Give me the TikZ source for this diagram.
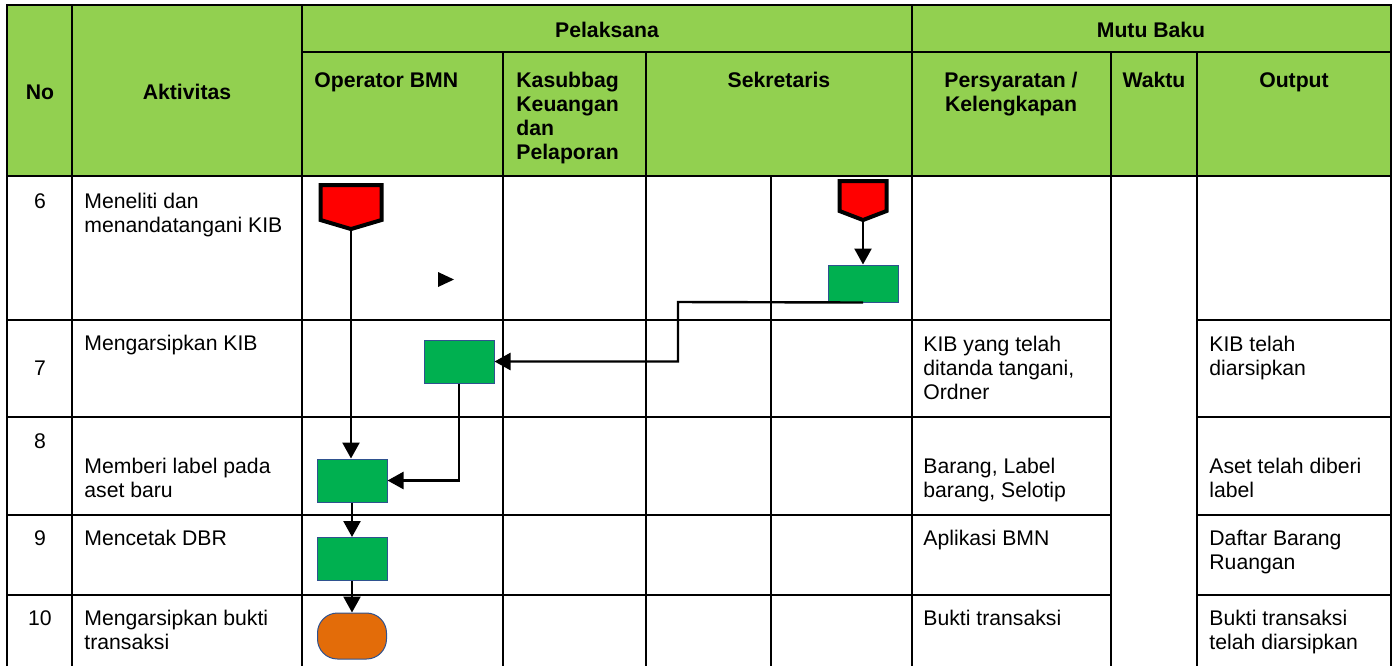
\documentclass[tikz,border=0pt]{standalone}
\usepackage{fontspec}
\setmainfont{Liberation Sans}
\usetikzlibrary{arrows.meta,shapes.symbols}
\definecolor{hdrgreen}{HTML}{92D050}
\definecolor{boxgreen}{HTML}{00B050}
\definecolor{boxedge}{HTML}{2F528F}
\definecolor{termorange}{HTML}{E36C09}
\begin{document}
\begin{tikzpicture}[
    x=0.5pt, y=-0.5pt,
    grid/.style={line width=1pt},
    head/.style={font=\fontsize{10.6}{12}\selectfont\bfseries, inner sep=0pt, align=center},
    cell/.style={font=\fontsize{10.6}{12}\selectfont, inner sep=0pt, align=left, anchor=base west},
    num/.style={font=\fontsize{10.6}{12}\selectfont, inner sep=0pt, anchor=base},
    task/.style={draw=boxedge, line width=0.5pt, fill=boxgreen, minimum width=35pt, minimum height=21.5pt, inner sep=0pt},
    offpage/.style={shape=signal, signal to=south, signal pointer angle=#1, draw=black, line width=2pt, fill=red, inner sep=0pt, anchor=north},
    terminator/.style={draw=boxedge, line width=0.5pt, fill=termorange, rounded corners=10pt, minimum width=34.5pt, minimum height=23pt, inner sep=0pt},
    arrow/.style={-{Triangle[length=8pt,width=8.5pt]}, line width=1.2pt}
]
    \useasboundingbox (0,0) rectangle (1397,666);
    \fill[hdrgreen] (7,5) rectangle (1391,176);
    \draw[grid] (7,666) -- (7,5) -- (1391,5) -- (1391,666);
    \draw[grid] (302,52) -- (1391,52);
    \draw[grid] (7,176) -- (1391,176);
    \foreach \x in {72,302,912} \draw[grid] (\x,5) -- (\x,666);
    \foreach \x in {503,646,1111,1197} \draw[grid] (\x,52) -- (\x,666);
    \draw[grid] (771,176) -- (771,666);
    \foreach \y in {320,417,515,595} {
        \draw[grid] (7,\y) -- (1111,\y);
        \draw[grid] (1197,\y) -- (1391,\y);
    }

    \node[head] (hno) at (40,92) {No};
    \node[head] (hakt) at (187,92) {Aktivitas};
    \node[head] (hpel) at (607,30) {Pelaksana};
    \node[head] (hmutu) at (1151,30) {Mutu Baku};
    \node[head, anchor=base west] (hop) at (314,87) {Operator BMN};
    \node[head, anchor=base west, align=left] (hkas) at (516,159) {Kasubbag\\Keuangan\\dan\\Pelaporan};
    \node[head, anchor=base] (hsek) at (779,87) {Sekretaris};
    \node[head, anchor=base] (hsyarat) at (1011,111) {Persyaratan /\\Kelengkapan};
    \node[head, anchor=base] (hwaktu) at (1154,87) {Waktu};
    \node[head, anchor=base] (hout) at (1294,87) {Output};

    \node[num] (n6) at (40,208) {6};
    \node[num] (n7) at (40,375) {7};
    \node[num] (n8) at (40,448) {8};
    \node[num] (n9) at (40,545) {9};
    \node[num] (n10) at (40,625) {10};

    \node[cell] (a6) at (84,232) {Meneliti dan\\menandatangani KIB};
    \node[cell] (a7) at (84,350) {Mengarsipkan KIB};
    \node[cell] (a8) at (84,497) {Memberi label pada\\aset baru};
    \node[cell] (a9) at (84,545) {Mencetak DBR};
    \node[cell] (a10) at (84,649) {Mengarsipkan bukti\\transaksi};

    \node[cell] (p7) at (923,399) {KIB yang telah\\ditanda tangani,\\Ordner};
    \node[cell] (p8) at (923,497) {Barang, Label\\barang, Selotip};
    \node[cell] (p9) at (923,545) {Aplikasi BMN};
    \node[cell] (p10) at (923,625) {Bukti transaksi};

    \node[cell] (o7) at (1209,375) {KIB telah\\diarsipkan};
    \node[cell] (o8) at (1209,497) {Aset telah diberi\\label};
    \node[cell] (o9) at (1209,569) {Daftar Barang\\Ruangan};
    \node[cell] (o10) at (1209,649) {Bukti transaksi\\telah diarsipkan};

    \node[offpage=147, minimum width=30.5pt, minimum height=17.5pt] (op6) at (351,183) {};
    \node[offpage=138, minimum width=23.5pt, minimum height=15pt] (sek6a) at (863,179) {};
    \node[task, minimum height=18.5pt] (sek6) at (863,283.5) {};
    \node[task] (op7) at (459,361.5) {};
    \node[task] (op8) at (352,480.5) {};
    \node[task] (op9) at (352,559) {};
    \node[terminator] (op10) at (352,636) {};
    \coordinate (bend) at (678,302);
    \fill (438,272) -- (454,279.5) -- (438,287) -- cycle;

    \draw[arrow] (sek6a.south) -- (sek6.north);
    \draw[arrow] (sek6.south) -- (bend) |- (op7.east);
    \draw[arrow] (op6.south) -- (op6.south |- op8.north);
    \draw[arrow] (op7.south) |- (op8.east);
    \draw[arrow] (op8.south) -- (op9.north);
    \draw[arrow] (op9.south) -- (op10.north);
\end{tikzpicture}
\end{document}
